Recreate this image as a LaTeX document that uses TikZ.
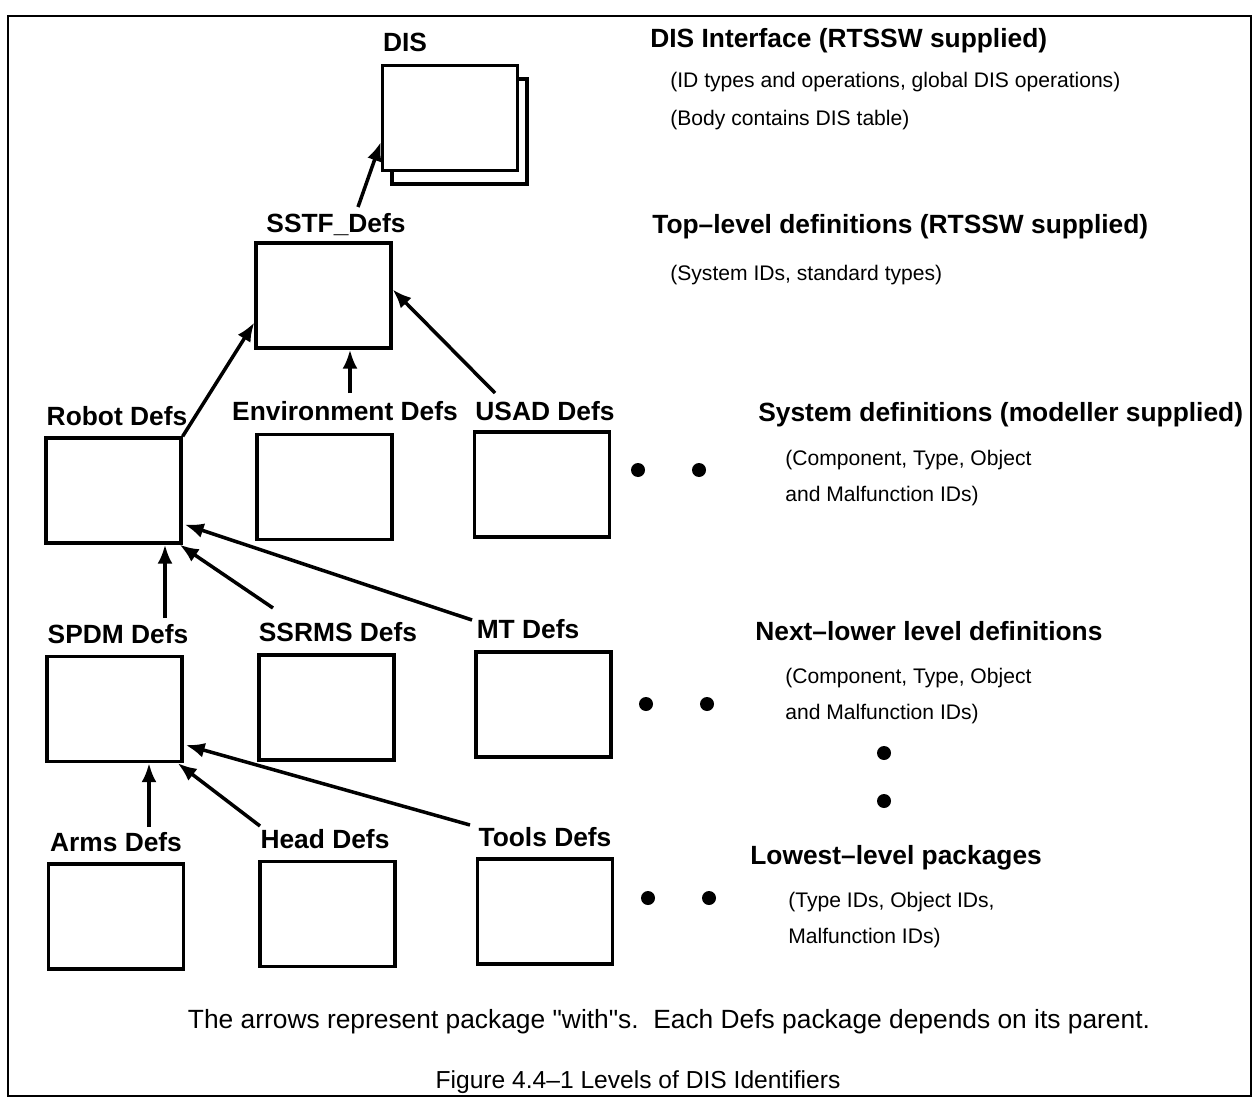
\documentclass[tikz,border=0pt]{standalone}
\usepackage{fontspec}
\setmainfont{Liberation Sans}
\newfontfamily\remarkfont{Liberation Sans}
\usepackage{tikz}
\usetikzlibrary{positioning, calc}
\usetikzlibrary{arrows.meta}

\begin{document}
\begin{tikzpicture}[x=0.02cm, y=-0.02cm]
            \tikzset{pkg/.style = {draw, line width=1.9pt, fill=white, minimum width=2.7cm, minimum height=2.1cm, inner sep=0pt}}
            \tikzset{lbl/.style = {anchor=base, inner sep=1pt, font=\bfseries\fontsize{15}{18}\selectfont}}
            \tikzset{head/.style = {anchor=base west, inner sep=0pt, font=\bfseries\fontsize{15}{18}\selectfont}}
            \tikzset{note/.style = {anchor=base west, inner sep=0pt, font=\fontsize{12}{14}\selectfont}}
            \tikzset{with/.style = {-{Latex[length=0.38cm,width=0.3cm]}, line width=2pt}}

            \useasboundingbox (0,0) rectangle (1258,1105);
            \draw[line width=1.3pt] (8,16) rectangle (1251,1096);

            % packages
            \node[pkg] (disback) at (459.5,131.5) {};
            \node[pkg] (dis) at (450,118) {};
            \node[pkg] (sstf) at (323.5,295.5) {};
            \node[pkg] (robot) at (113.5,490.5) {};
            \node[pkg] (env) at (324.5,487) {};
            \node[pkg] (usad) at (542,484.5) {};
            \node[pkg] (spdm) at (114.5,709) {};
            \node[pkg] (ssrms) at (326.5,707.5) {};
            \node[pkg] (mt) at (543.5,704.5) {};
            \node[pkg] (arms) at (116,916.5) {};
            \node[pkg] (headdefs) at (327.5,914) {};
            \node[pkg] (tools) at (545,911.5) {};

            \node[lbl] (dislbl) at (405,52) {DIS};
            \node[lbl] (sstflbl) at (336,232) {SSTF\_Defs};
            \node[lbl] (robotlbl) at (117,425) {Robot Defs};
            \node[lbl] (envlbl) at (345,420) {Environment Defs};
            \node[lbl] (usadlbl) at (545,420) {USAD Defs};
            \node[lbl] (spdmlbl) at (118,643) {SPDM Defs};
            \node[lbl] (ssrmslbl) at (338,641) {SSRMS Defs};
            \node[lbl] (mtlbl) at (528,638) {MT Defs};
            \node[lbl] (armslbl) at (116,851) {Arms Defs};
            \node[lbl] (headlbl) at (325,848) {Head Defs};
            \node[lbl] (toolslbl) at (545,846) {Tools Defs};

            % dependencies
            \draw[with] ($(sstflbl.base)+(22,-25)$) -- ($(dis.west)+(0,24)$);
            \draw[with] (robot.north east) -- ($(sstf.west)+(0,27)$);
            \coordinate (envtop) at ($(envlbl.base)+(5,-27)$);
            \draw[with] (envtop) -- (envtop |- sstf.south);
            \draw[with] ($(usadlbl.base)+(-50,-27)$) -- ($(sstf.east)+(0,-6)$);

            \coordinate (spdmtop) at ($(spdmlbl.base)+(47,-25)$);
            \draw[with] (spdmtop) -- (spdmtop |- robot.south);
            \draw[with] ($(ssrmslbl.base)+(-65,-33)$) -- ($(robot.south east)+(-3,0)$);
            \draw[with] ($(mtlbl.base)+(-56,-18)$) -- ($(robot.east)+(2,34)$);

            \coordinate (armstop) at ($(armslbl.base)+(33,-24)$);
            \draw[with] (armstop) -- (armstop |- spdm.south);
            \draw[with] ($(headlbl.base)+(-65,-22)$) -- ($(spdm.south east)+(-6,0)$);
            \draw[with] ($(toolslbl.base)+(-75,-21)$) -- ($(spdm.east)+(2,36)$);

            % more packages
            \foreach \px/\py in {638/470, 699/470, 646/704, 707/704, 648/898, 709/898, 884/753, 884/801}
                \fill (\px,\py) circle[radius=0.14cm];

            % levels
            \node[head] (lvdis) at (650,48) {DIS Interface (RTSSW supplied)};
            \node[note] at (670,88) {(ID types and operations, global DIS operations)};
            \node[note] at (670,126) {(Body contains DIS table)};
            \node[head] (lvtop) at (652,234) {Top–level definitions (RTSSW supplied)};
            \node[note] at (670,280) {(System IDs, standard types)};
            \node[head] (lvsys) at (758,421) {System definitions (modeller supplied)};
            \node[note] at (785,465) {(Component, Type, Object};
            \node[note] at (785,501) {and Malfunction IDs)};
            \node[head] (lvnext) at (755,640) {Next–lower level definitions};
            \node[note] at (785,683) {(Component, Type, Object};
            \node[note] at (785,719) {and Malfunction IDs)};
            \node[head] (lvlow) at (750,864) {Lowest–level packages};
            \node[note] at (788,907) {(Type IDs, Object IDs,};
            \node[note] at (788,943) {Malfunction IDs)};

            \node[anchor=base, font=\remarkfont\fontsize{15}{18}\selectfont] (remark) at (669,1028) {The arrows represent package "with"s.\ \ Each Defs package depends on its parent.};
            \node[anchor=base, font=\fontsize{14}{17}\selectfont] (caption) at (638,1088) {Figure 4.4–1 Levels of DIS Identifiers};
        \end{tikzpicture}
\end{document}
